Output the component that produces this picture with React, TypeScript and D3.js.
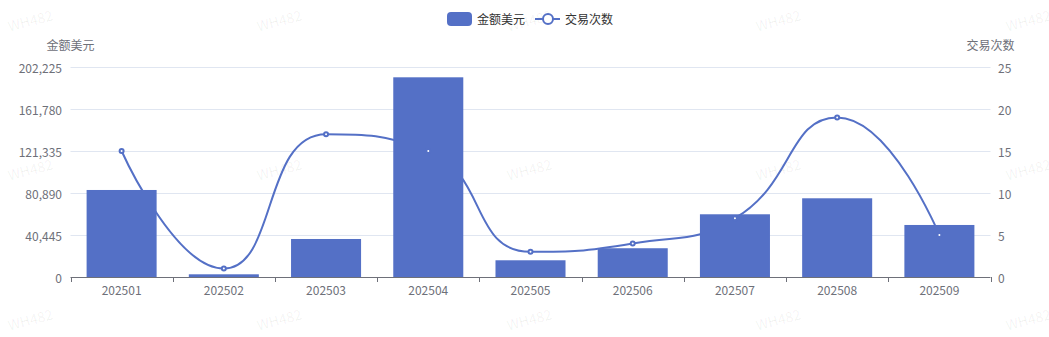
import React from "react";
import * as d3 from "d3";

const categories = ["202501", "202502", "202503", "202504", "202505", "202506", "202507", "202508", "202509"];
const amountValues = [83800, 2600, 36600, 192300, 16100, 27700, 60400, 75800, 50100];
const countValues = [15, 1, 17, 15, 3, 4, 7, 19, 5];
const leftTicks = [0, 40445, 80890, 121335, 161780, 202225];
const rightTicks = [0, 5, 10, 15, 20, 25];
const barName = "金额美元";
const lineName = "交易次数";
const watermarkText = "WH482";

const W = 1049;
const H = 337;
const COLOR = "#5470c6";
const FONT = "'Noto Sans CJK SC', 'Noto Sans', sans-serif";

function echartsSmoothPath(pts: [number, number][], smooth = 0.5): string {
  let d = "";
  let prevX = 0, prevY = 0, cpx0 = 0, cpy0 = 0, cpx1 = 0, cpy1 = 0;
  let nextCpx0 = 0, nextCpy0 = 0;
  const n = pts.length;
  for (let i = 0; i < n; i++) {
    const [x, y] = pts[i];
    if (i === 0) {
      d += `M${x},${y}`;
      cpx0 = x; cpy0 = y;
    } else {
      if (i + 1 >= n) {
        cpx1 = x; cpy1 = y;
      } else {
        const [nextX, nextY] = pts[i + 1];
        let vx = nextX - prevX;
        let vy = nextY - prevY;
        const dx0 = x - prevX, dx1 = nextX - x, dy0 = y - prevY, dy1 = nextY - y;
        const lenPrevSeg = Math.sqrt(dx0 * dx0 + dy0 * dy0);
        const lenNextSeg = Math.sqrt(dx1 * dx1 + dy1 * dy1);
        const ratioNextSeg = lenNextSeg / (lenNextSeg + lenPrevSeg);
        cpx1 = x - vx * smooth * (1 - ratioNextSeg);
        cpy1 = y - vy * smooth * (1 - ratioNextSeg);
        nextCpx0 = x + vx * smooth * ratioNextSeg;
        nextCpy0 = y + vy * smooth * ratioNextSeg;
        nextCpx0 = Math.min(nextCpx0, Math.max(nextX, x));
        nextCpy0 = Math.min(nextCpy0, Math.max(nextY, y));
        nextCpx0 = Math.max(nextCpx0, Math.min(nextX, x));
        nextCpy0 = Math.max(nextCpy0, Math.min(nextY, y));
        vx = nextCpx0 - x;
        vy = nextCpy0 - y;
        cpx1 = x - vx * lenPrevSeg / lenNextSeg;
        cpy1 = y - vy * lenPrevSeg / lenNextSeg;
        cpx1 = Math.min(cpx1, Math.max(prevX, x));
        cpy1 = Math.min(cpy1, Math.max(prevY, y));
        cpx1 = Math.max(cpx1, Math.min(prevX, x));
        cpy1 = Math.max(cpy1, Math.min(prevY, y));
        vx = x - cpx1;
        vy = y - cpy1;
        nextCpx0 = x + vx * lenNextSeg / lenPrevSeg;
        nextCpy0 = y + vy * lenNextSeg / lenPrevSeg;
      }
      d += `C${cpx0},${cpy0},${cpx1},${cpy1},${x},${y}`;
      cpx0 = nextCpx0; cpy0 = nextCpy0;
    }
    prevX = x; prevY = y;
  }
  return d;
}

export default function App() {
  const left = 70.5, right = 990.5, top = 67, bottom = 277;
  const x = d3.scaleBand<string>().domain(categories).range([left, right]);
  const yL = d3.scaleLinear().domain([0, 202225]).range([bottom, top]);
  const yR = d3.scaleLinear().domain([0, 25]).range([bottom, top]);
  const bw = x.bandwidth();
  const barW = bw * 0.685;
  const fmt = d3.format(",");

  const pts: [number, number][] = categories.map((c, i) => [x(c)! + bw / 2, yR(countValues[i])]);
  const linePath = echartsSmoothPath(pts);

  const wmCols = [30, 279, 529, 778, 1028];
  const wmRows = [20, 169, 319];

  return (
    <svg width={W} height={H} style={{ position: "absolute", left: 0, top: 0, background: "#fff" }} fontFamily={FONT}>
      {wmRows.map((wy) =>
        wmCols.map((wx) => (
          <text key={`${wx}-${wy}`} x={wx} y={wy} transform={`rotate(-15 ${wx} ${wy})`} textAnchor="middle" dominantBaseline="central" fontSize={14} fill="#000" fillOpacity={0.06}>
            {watermarkText}
          </text>
        ))
      )}
      {/* grid lines */}
      {leftTicks.map((t) => (
        t === 0 ? null : <line key={t} x1={left} x2={right} y1={Math.round(yL(t)) + 0.5} y2={Math.round(yL(t)) + 0.5} stroke="#e0e6f1" strokeWidth={1} />
      ))}
      {/* left labels */}
      {leftTicks.map((t) => (
        <text key={"l" + t} x={62} y={yL(t)} textAnchor="end" dominantBaseline="central" fontSize={12} fill="#6e7079">{fmt(t)}</text>
      ))}
      {rightTicks.map((t) => (
        <text key={"r" + t} x={998} y={yR(t)} textAnchor="start" dominantBaseline="central" fontSize={12} fill="#6e7079">{t}</text>
      ))}
      <text x={left} y={44} textAnchor="middle" dominantBaseline="central" fontSize={12} fill="#6e7079">{barName}</text>
      <text x={right} y={44} textAnchor="middle" dominantBaseline="central" fontSize={12} fill="#6e7079">{lineName}</text>

      {/* line behind bars */}
      <path d={linePath} fill="none" stroke={COLOR} strokeWidth={2} />

      {/* bars */}
      {categories.map((c, i) => (
        <rect key={c} x={x(c)! + (bw - barW) / 2} y={yL(amountValues[i])} width={barW} height={bottom - yL(amountValues[i])} fill={COLOR} />
      ))}

      {/* x axis */}
      <line x1={left} x2={right} y1={bottom + 0.5} y2={bottom + 0.5} stroke="#6e7079" strokeWidth={1} />
      {[...categories.map((c) => x(c)!), right].map((tx, i) => (
        <line key={"t" + i} x1={Math.round(tx) + 0.5} x2={Math.round(tx) + 0.5} y1={bottom} y2={bottom + 5} stroke="#6e7079" strokeWidth={1} />
      ))}
      {categories.map((c) => (
        <text key={"x" + c} x={x(c)! + bw / 2} y={289} textAnchor="middle" dominantBaseline="central" fontSize={12} fill="#6e7079">{c}</text>
      ))}

      {/* symbols on top */}
      {pts.map(([px, py], i) => (
        <circle key={"s" + i} cx={px} cy={py} r={2} fill="#fff" stroke={COLOR} strokeWidth={2} />
      ))}

      {/* legend */}
      <rect x={447} y={12} width={25} height={14} rx={4} fill={COLOR} />
      <text x={477} y={18.5} dominantBaseline="central" fontSize={12} fill="#333">{barName}</text>
      <line x1={535} x2={560} y1={19} y2={19} stroke={COLOR} strokeWidth={2} />
      <circle cx={548} cy={19} r={5} fill="#fff" stroke={COLOR} strokeWidth={2} />
      <text x={565} y={18.5} dominantBaseline="central" fontSize={12} fill="#333">{lineName}</text>
    </svg>
  );
}
